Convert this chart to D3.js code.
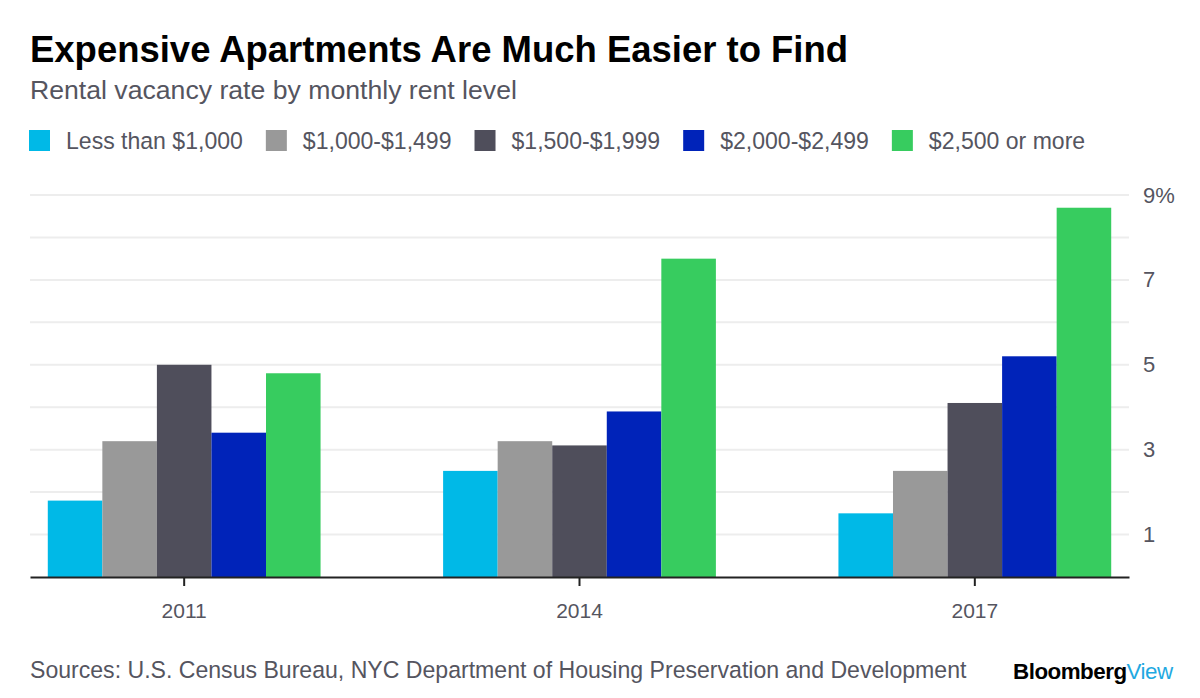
<!DOCTYPE html>
<html>
<head>
<meta charset="utf-8">
<script src="https://cdn.jsdelivr.net/npm/d3@7"></script>
<style>
  body { margin: 0; background: #fff; }
  svg { display: block; font-family: "Liberation Sans", Arial, sans-serif; }
</style>
</head>
<body>
<div id="chart"><svg class="diagram"></svg></div>
<script>

var years = ["2011", "2014", "2017"];
var seriesNames = ["Less than $1,000", "$1,000-$1,499", "$1,500-$1,999", "$2,000-$2,499", "$2,500 or more"];
var seriesColors = ["#00b9e7", "#999999", "#4f4e5b", "#0023b9", "#37cc5f"];
// vacancy rate (%) per series, one value per year
var lessThan1000 = [1.8, 2.5, 1.5];
var from1000 = [3.2, 3.2, 2.5];
var from1500 = [5.0, 3.1, 4.1];
var from2000 = [3.4, 3.9, 5.2];
var over2500 = [4.8, 7.5, 8.7];
var yTickValues = [1, 3, 5, 7, 9];
var gridValues = [1, 2, 3, 4, 5, 6, 7, 8, 9];

var width = 1200, height = 698;
var margin = {top: 195, right: 71, bottom: 121, left: 30};
var textColor = "#55555f";

var svg = d3.select("#chart").select("svg")
    .attr("width", width)
    .attr("height", height);

// fit a text element to the width it has in the reference
function fitText(sel, target) {
    var size = parseFloat(sel.attr("font-size"));
    var w = sel.node().getComputedTextLength();
    sel.attr("font-size", (size * target / w).toFixed(2));
}

/***********************************************************************************************************/
// headings

var title = svg.append("text")
    .attr("x", 30).attr("y", 62)
    .attr("font-size", 32)
    .attr("font-weight", "bold")
    .style("fill", "#000")
    .text("Expensive Apartments Are Much Easier to Find");
fitText(title, 818);

var subtitle = svg.append("text")
    .attr("x", 30).attr("y", 99)
    .attr("font-size", 22)
    .style("fill", textColor)
    .text("Rental vacancy rate by monthly rent level");
fitText(subtitle, 487);

/***********************************************************************************************************/
// legend

var legend = svg.append("g").attr("class", "legend");
var legendX = 29, legendFont = 21;
var probe = legend.append("text").attr("font-size", legendFont).text(seriesNames[0]);
legendFont = legendFont * 177 / probe.node().getComputedTextLength();
probe.remove();

seriesNames.forEach(function(name, i){
    legend.append("rect")
        .attr("x", legendX).attr("y", 130)
        .attr("width", 21).attr("height", 21)
        .style("fill", seriesColors[i]);
    var t = legend.append("text")
        .attr("x", legendX + 37).attr("y", 148.5)
        .attr("font-size", legendFont)
        .style("fill", textColor)
        .text(name);
    legendX = legendX + 37 + t.node().getComputedTextLength() + 23;
});

/***********************************************************************************************************/
// chart

var data = years.map(function(year, i){
    return {
        year: year,
        values: [lessThan1000[i], from1000[i], from1500[i], from2000[i], over2500[i]]
    };
});

var x0 = d3.scaleBand()
    .domain(years)
    .range([margin.left, width - margin.right])
    .paddingInner(0.31)
    .paddingOuter(0.045);

var x1 = d3.scaleBand()
    .domain(d3.range(seriesNames.length))
    .range([0, x0.bandwidth()]);

var y = d3.scaleLinear()
    .domain([0, 9])
    .range([height - margin.bottom, margin.top]);

svg.append("g").attr("class", "grid")
    .selectAll("line")
    .data(gridValues)
    .enter().append("line")
    .attr("x1", margin.left).attr("x2", width - margin.right)
    .attr("y1", function(d){ return y(d); })
    .attr("y2", function(d){ return y(d); })
    .style("stroke", "#ededed")
    .style("stroke-width", 2);

svg.append("g").attr("class", "bars")
    .selectAll("g")
    .data(data)
    .enter().append("g")
    .attr("transform", function(d){ return "translate(" + x0(d.year) + ",0)"; })
    .selectAll("rect")
    .data(function(d){ return d.values; })
    .enter().append("rect")
    .attr("x", function(d, i){ return x1(i); })
    .attr("width", x1.bandwidth())
    .attr("y", function(d){ return y(d); })
    .attr("height", function(d){ return y(0) - y(d); })
    .style("fill", function(d, i){ return seriesColors[i]; });

// y axis on the right
var yAxis = svg.append("g")
    .attr("transform", "translate(" + (width - margin.right + 14) + ",0)")
    .call(d3.axisRight(y)
        .tickValues(yTickValues)
        .tickSize(0)
        .tickFormat(function(d){ return d === 9 ? d + "%" : d; }));
yAxis.select(".domain").remove();
yAxis.selectAll("text")
    .attr("x", 0)
    .attr("font-size", 22)
    .attr("font-family", "Liberation Sans, Arial, sans-serif")
    .style("fill", textColor);

// x axis
var xAxis = svg.append("g")
    .attr("transform", "translate(0," + y(0) + ")")
    .call(d3.axisBottom(x0).tickSize(9).tickSizeOuter(0));
xAxis.select(".domain")
    .style("stroke", "#222")
    .style("stroke-width", 2);
xAxis.selectAll(".tick line")
    .style("stroke", "#222")
    .style("stroke-width", 2);
xAxis.selectAll("text")
    .attr("y", 0)
    .attr("dy", 0)
    .attr("transform", "translate(0,41)")
    .attr("font-size", 21)
    .attr("font-family", "Liberation Sans, Arial, sans-serif")
    .style("fill", textColor);

/***********************************************************************************************************/
// footer

var source = svg.append("text")
    .attr("x", 30).attr("y", 678)
    .attr("font-size", 20)
    .style("fill", textColor)
    .text("Sources: U.S. Census Bureau, NYC Department of Housing Preservation and Development");
fitText(source, 937);

var brand = svg.append("text")
    .attr("x", 1013).attr("y", 679)
    .attr("font-size", 20)
    .attr("font-weight", "bold")
    .style("letter-spacing", "-0.5px");
brand.append("tspan").style("fill", "#000").text("Bloomberg");
brand.append("tspan").style("fill", "#1fa9e1").attr("font-weight", "normal").text("View");
fitText(brand, 159);

</script>
</body>
</html>
